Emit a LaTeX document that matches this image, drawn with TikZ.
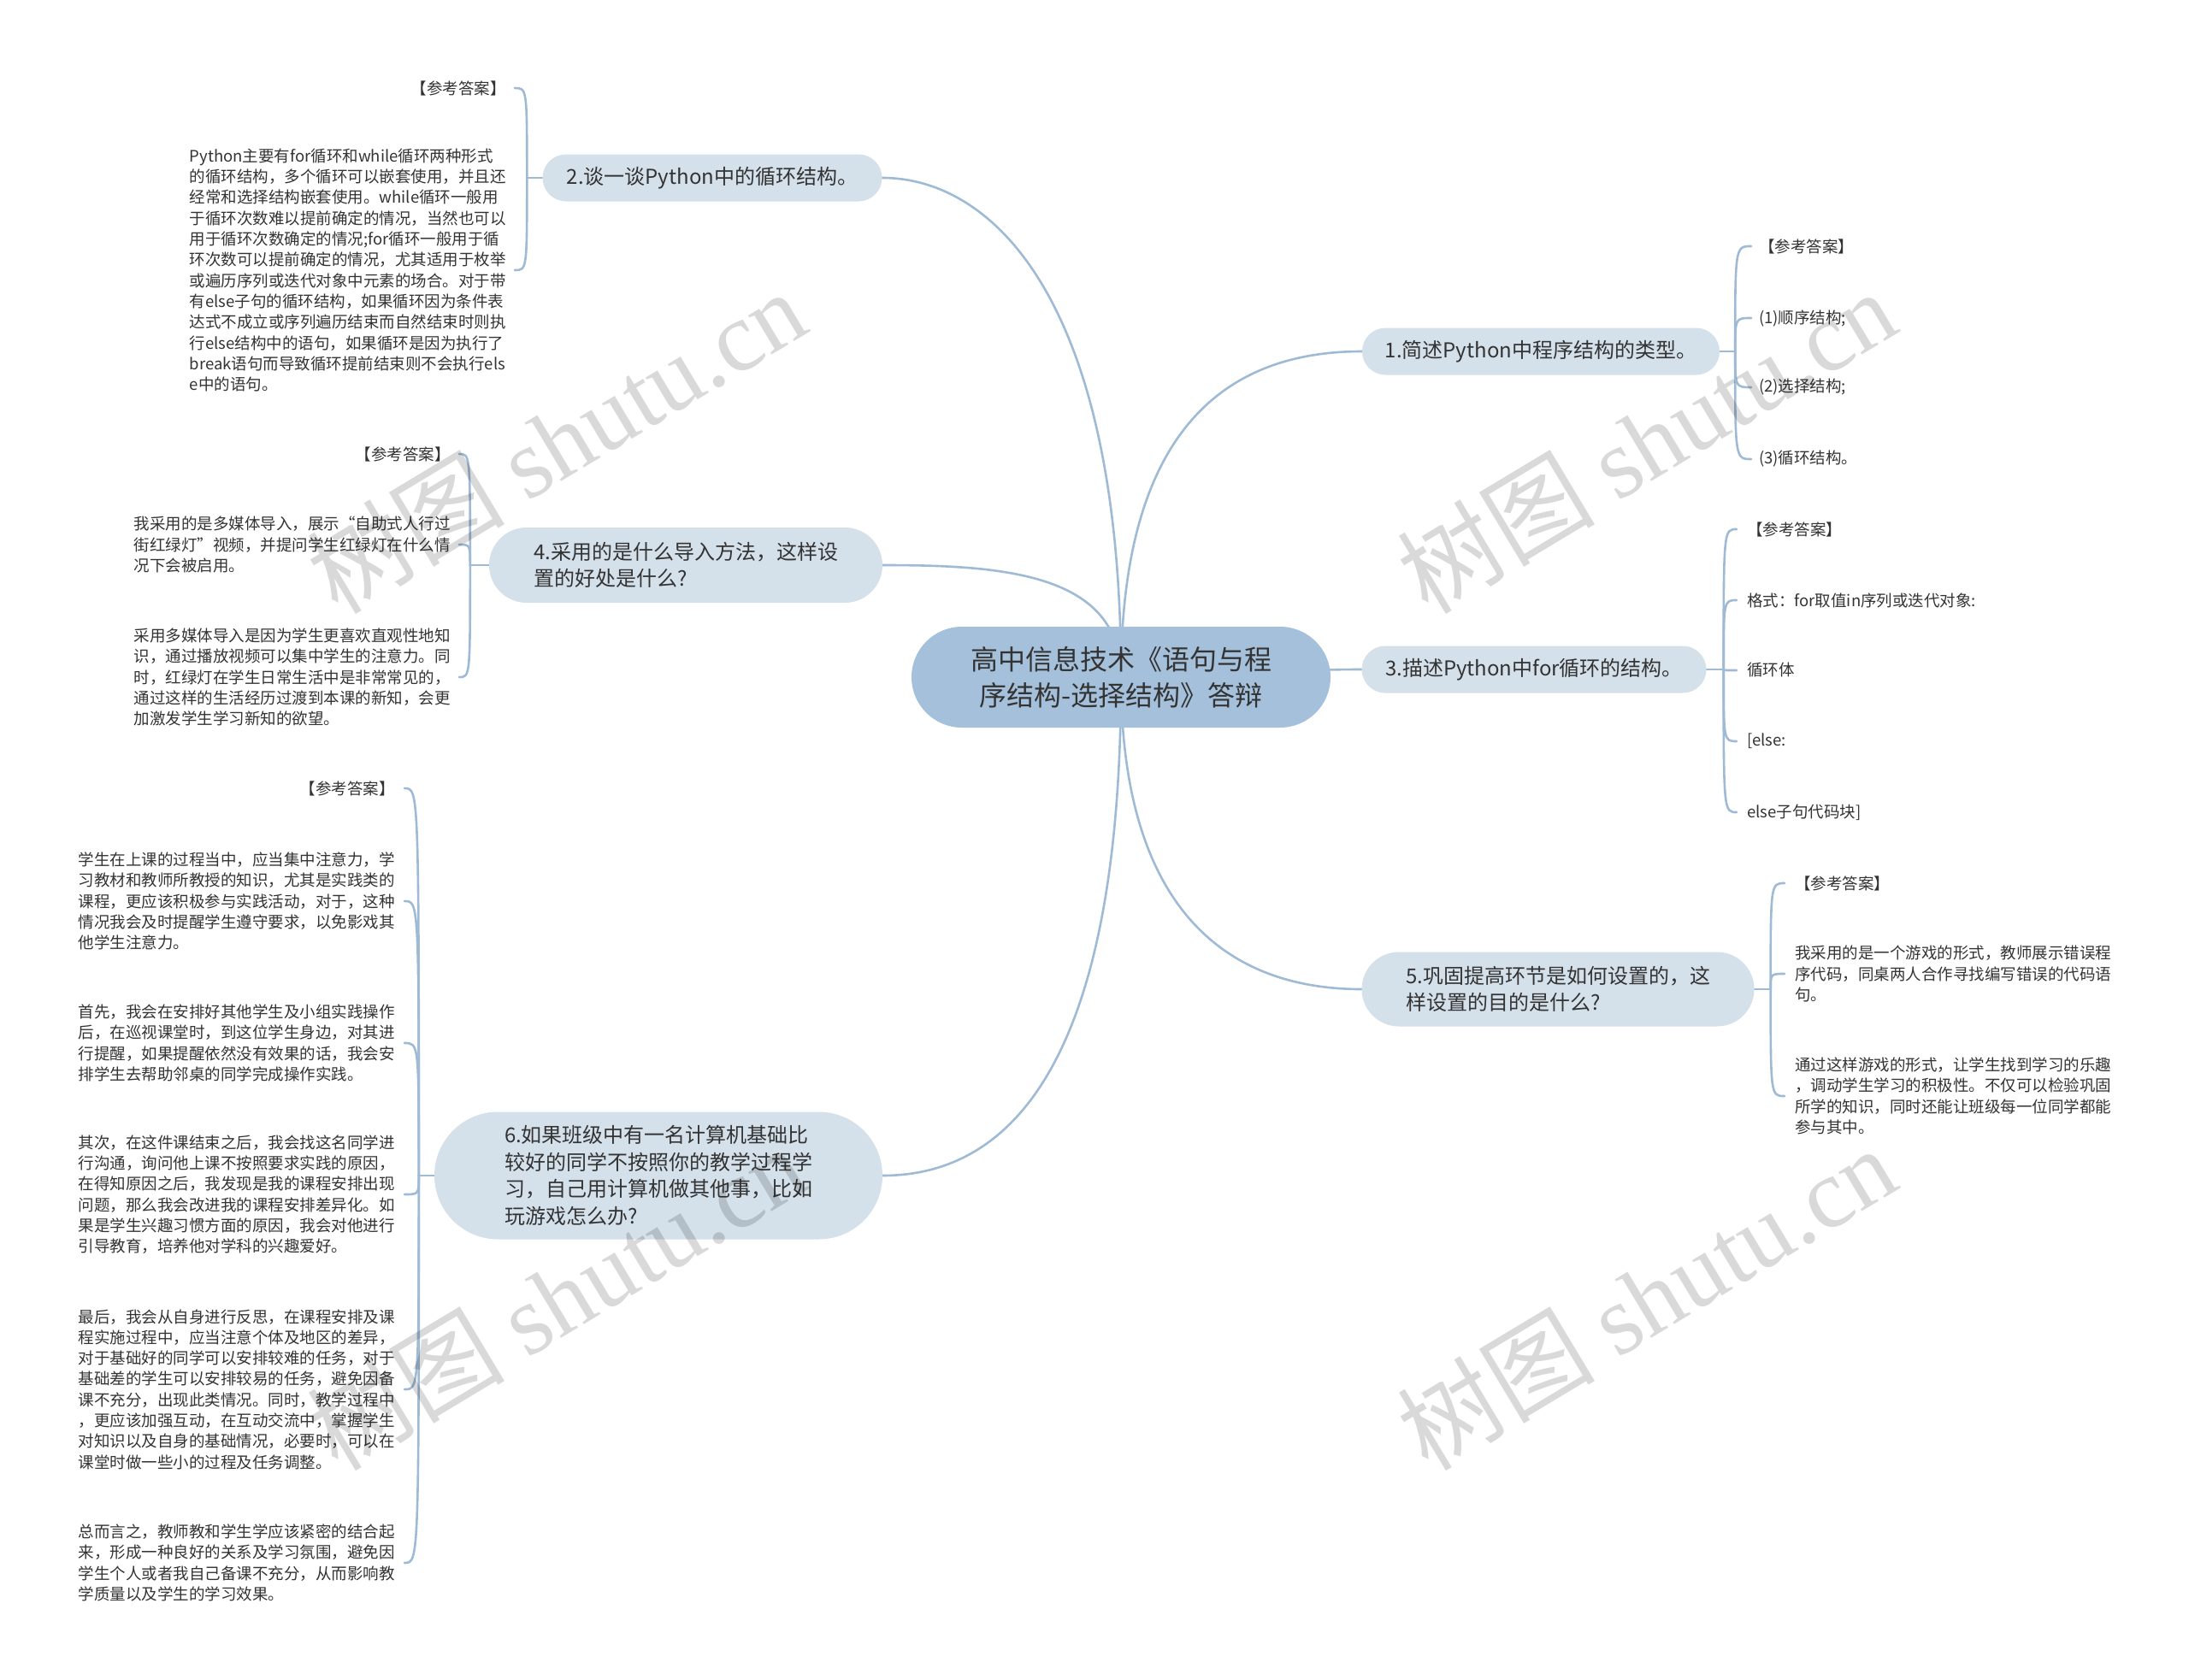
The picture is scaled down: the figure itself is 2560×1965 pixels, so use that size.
\documentclass[tikz,border=0pt]{standalone}
\usepackage{fontspec}
\setmainfont{Noto Sans CJK SC}
\newfontfamily\wmserif{Liberation Serif}
\usetikzlibrary{backgrounds,calc}
\definecolor{mainfill}{HTML}{A5C0DA}
\definecolor{brfill}{HTML}{D4E0EA}
\definecolor{linec}{HTML}{9FBAD4}
\definecolor{txt}{HTML}{333333}
\tikzset{
  mainnode/.style={fill=mainfill, rounded corners=59pt, minimum width=490pt, minimum height=118pt, align=center, text=txt, font=\fontsize{32}{42}\selectfont, inner sep=0pt},
  brnode/.style={fill=brfill, align=left, text=txt, font=\fontsize{24}{31.5}\selectfont, inner sep=0pt},
  leaf/.style={align=left, text=txt, font=\fontsize{18.5}{24.3}\selectfont, inner sep=0pt},
  conn/.style={draw=linec, line width=2.6pt, line cap=round},
  wm/.style={text=black, text opacity=0.15, rotate=31, font=\fontsize{116}{116}\selectfont, inner sep=0pt},
}
\begin{document}
\begin{tikzpicture}[x=1pt,y=-1pt]
\useasboundingbox (0,0) rectangle (2560,1965);

% main node
\node[mainnode] (m) at (1311,792) {高中信息技术《语句与程\\序结构-选择结构》答辩};

% branch nodes
\node[brnode, minimum width=418pt, minimum height=55pt, rounded corners=27.5pt] (b1) at (1802,411) {1.简述Python中程序结构的类型。};
\node[brnode, minimum width=397pt, minimum height=55pt, rounded corners=27.5pt] (b2) at (833,208) {2.谈一谈Python中的循环结构。};
\node[brnode, minimum width=403pt, minimum height=55pt, rounded corners=27.5pt] (b3) at (1794,783) {3.描述Python中for循环的结构。};
\node[brnode, minimum width=460pt, minimum height=88pt, rounded corners=44pt] (b4) at (802,661) {4.采用的是什么导入方法，这样设\\置的好处是什么?};
\node[brnode, minimum width=459pt, minimum height=87pt, rounded corners=43.5pt] (b5) at (1822,1157) {5.巩固提高环节是如何设置的，这\\样设置的目的是什么?};
\node[brnode, minimum width=524pt, minimum height=149pt, rounded corners=74.5pt] (b6) at (770,1375) {6.如果班级中有一名计算机基础比\\较好的同学不按照你的教学过程学\\习，自己用计算机做其他事，比如\\玩游戏怎么办?};

% leaves of branch 1
\node[leaf, anchor=west] (l11) at (2057,288) {【参考答案】};
\node[leaf, anchor=west] (l12) at (2057,372) {(1)顺序结构;};
\node[leaf, anchor=west] (l13) at (2057,453) {(2)选择结构;};
\node[leaf, anchor=west] (l14) at (2057,537) {(3)循环结构。};

% leaves of branch 3
\node[leaf, anchor=west] (l31) at (2043,619) {【参考答案】};
\node[leaf, anchor=west] (l32) at (2043,702) {格式：for取值in序列或迭代对象:};
\node[leaf, anchor=west] (l33) at (2043,784) {循环体};
\node[leaf, anchor=west] (l34) at (2043,867) {[else:};
\node[leaf, anchor=west] (l35) at (2043,950) {else子句代码块]};

% leaves of branch 5
\node[leaf, anchor=west] (l51) at (2099,1033) {【参考答案】};
\node[leaf, anchor=west] (l52) at (2099,1139) {我采用的是一个游戏的形式，教师展示错误程\\序代码，同桌两人合作寻找编写错误的代码语\\句。};
\node[leaf, anchor=west] (l53) at (2099,1282) {通过这样游戏的形式，让学生找到学习的乐趣\\，调动学生学习的积极性。不仅可以检验巩固\\所学的知识，同时还能让班级每一位同学都能\\参与其中。};

% leaves of branch 2
\node[leaf, anchor=east] (l21) at (592,103) {【参考答案】};
\node[leaf, anchor=east] (l22) at (592,316) {Python主要有for循环和while循环两种形式\\的循环结构，多个循环可以嵌套使用，并且还\\经常和选择结构嵌套使用。while循环一般用\\于循环次数难以提前确定的情况，当然也可以\\用于循环次数确定的情况;for循环一般用于循\\环次数可以提前确定的情况，尤其适用于枚举\\或遍历序列或迭代对象中元素的场合。对于带\\有else子句的循环结构，如果循环因为条件表\\达式不成立或序列遍历结束而自然结束时则执\\行else结构中的语句，如果循环是因为执行了\\break语句而导致循环提前结束则不会执行els\\e中的语句。};

% leaves of branch 4
\node[leaf, anchor=east] (l41) at (527,531) {【参考答案】};
\node[leaf, anchor=east] (l42) at (527,637) {我采用的是多媒体导入，展示“自助式人行过\\街红绿灯”视频，并提问学生红绿灯在什么情\\况下会被启用。};
\node[leaf, anchor=east] (l43) at (527,792) {采用多媒体导入是因为学生更喜欢直观性地知\\识，通过播放视频可以集中学生的注意力。同\\时，红绿灯在学生日常生活中是非常常见的，\\通过这样的生活经历过渡到本课的新知，会更\\加激发学生学习新知的欲望。};

% leaves of branch 6
\node[leaf, anchor=east] (l61) at (462,922) {【参考答案】};
\node[leaf, anchor=east] (l62) at (462,1054) {学生在上课的过程当中，应当集中注意力，学\\习教材和教师所教授的知识，尤其是实践类的\\课程，更应该积极参与实践活动，对于，这种\\情况我会及时提醒学生遵守要求，以免影戏其\\他学生注意力。};
\node[leaf, anchor=east] (l63) at (462,1220) {首先，我会在安排好其他学生及小组实践操作\\后，在巡视课堂时，到这位学生身边，对其进\\行提醒，如果提醒依然没有效果的话，我会安\\排学生去帮助邻桌的同学完成操作实践。};
\node[leaf, anchor=east] (l64) at (462,1397) {其次，在这件课结束之后，我会找这名同学进\\行沟通，询问他上课不按照要求实践的原因，\\在得知原因之后，我发现是我的课程安排出现\\问题，那么我会改进我的课程安排差异化。如\\果是学生兴趣习惯方面的原因，我会对他进行\\引导教育，培养他对学科的兴趣爱好。};
\node[leaf, anchor=east] (l65) at (462,1625) {最后，我会从自身进行反思，在课程安排及课\\程实施过程中，应当注意个体及地区的差异，\\对于基础好的同学可以安排较难的任务，对于\\基础差的学生可以安排较易的任务，避免因备\\课不充分，出现此类情况。同时，教学过程中\\，更应该加强互动，在互动交流中，掌握学生\\对知识以及自身的基础情况，必要时，可以在\\课堂时做一些小的过程及任务调整。};
\node[leaf, anchor=east] (l66) at (462,1828) {总而言之，教师教和学生学应该紧密的结合起\\来，形成一种良好的关系及学习氛围，避免因\\学生个人或者我自己备课不充分，从而影响教\\学质量以及学生的学习效果。};

% junctions
\coordinate (j1) at ([xshift=18pt]b1.east);
\coordinate (j3) at ([xshift=20pt]b3.east);
\coordinate (j5) at ([xshift=19pt]b5.east);
\coordinate (j2) at ([xshift=-18pt]b2.west);
\coordinate (j4) at ([xshift=-22pt]b4.west);
\coordinate (j6) at ([xshift=-18pt]b6.west);

\begin{scope}[on background layer]
  \fill[white] (0,0) rectangle (2560,1965);
  % main to branches
  \draw[conn] (m.center) .. controls +(0,-300) and +(-150,0) .. (b1.west);
  \draw[conn] (m.center) .. controls +(0,-440) and +(130,0) .. (b2.east);
  \draw[conn] (m.center) .. controls +(150,0) and +(-100,0) .. (b3.west);
  \draw[conn] (m.center) .. controls +(0,-122) and +(140,0) .. (b4.east);
  \draw[conn] (m.center) .. controls +(0,280) and +(-150,0) .. (b5.west);
  \draw[conn] (m.center) .. controls +(0,450) and +(150,0) .. (b6.east);
  % branch stubs
  \draw[conn] (b1.east) -- (j1);
  \draw[conn] (b3.east) -- (j3);
  \draw[conn] (b5.east) -- (j5);
  \draw[conn] (b2.west) -- (j2);
  \draw[conn] (b4.west) -- (j4);
  \draw[conn] (b6.west) -- (j6);
  % right leaves
  \foreach \l in {l11,l12,l13,l14}
    \draw[conn] (j1) .. controls (j1 |- \l.west) and (j1 |- \l.west) .. ([xshift=-9pt]\l.west);
  \foreach \l in {l31,l32,l33,l34,l35}
    \draw[conn] (j3) .. controls (j3 |- \l.west) and (j3 |- \l.west) .. ([xshift=-12pt]\l.west);
  \foreach \l in {l51,l52,l53}
    \draw[conn] (j5) .. controls (j5 |- \l.west) and (j5 |- \l.west) .. ([xshift=-12pt]\l.west);
  % left leaves
  \foreach \l in {l21,l22}
    \draw[conn] (j2) .. controls (j2 |- \l.east) and (j2 |- \l.east) .. ([xshift=10pt]\l.east);
  \foreach \l in {l41,l42,l43}
    \draw[conn] (j4) .. controls (j4 |- \l.east) and (j4 |- \l.east) .. ([xshift=10pt]\l.east);
  \foreach \l in {l61,l62,l63,l64,l65,l66}
    \draw[conn] (j6) .. controls (j6 |- \l.east) and (j6 |- \l.east) .. ([xshift=11pt]\l.east);
\end{scope}

% watermarks
\node[wm] (w1) at (650,516) {树图 {\wmserif shutu.cn}};
\node[wm] (w2) at (1925,516) {树图 {\wmserif shutu.cn}};
\node[wm] (w3) at (650,1518) {树图 {\wmserif shutu.cn}};
\node[wm] (w4) at (1925,1518) {树图 {\wmserif shutu.cn}};
\end{tikzpicture}
\end{document}
